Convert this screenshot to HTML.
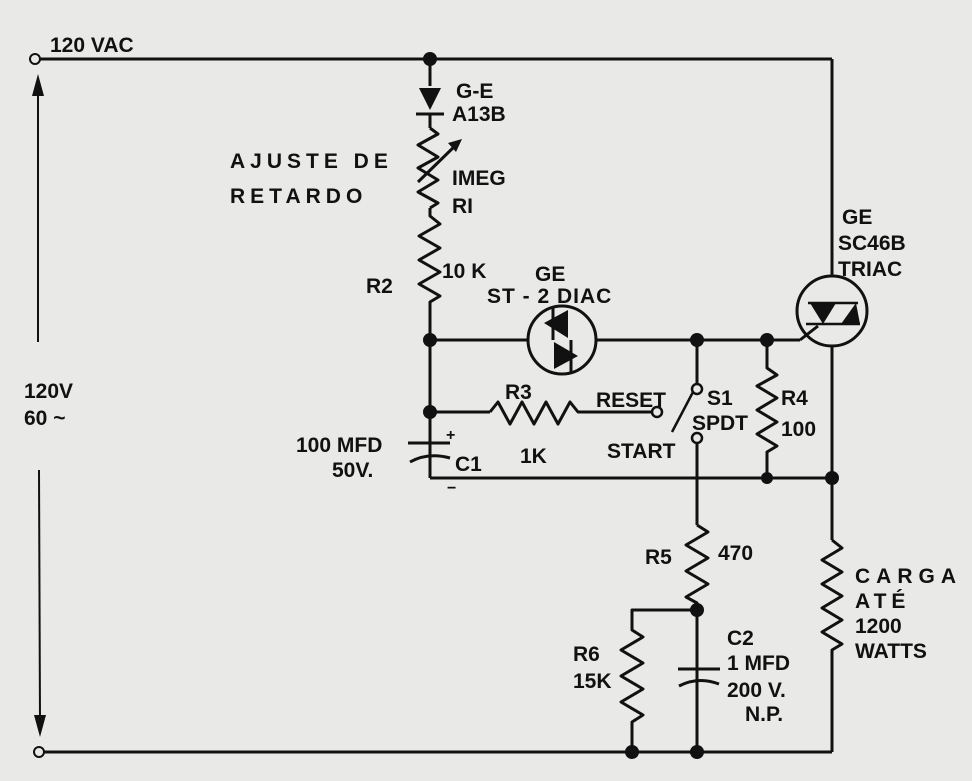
<!DOCTYPE html>
<html><head><meta charset="utf-8"><style>
html,body{margin:0;padding:0;background:#e9e9e7;}
svg{display:block}
text{font-family:"Liberation Sans",sans-serif;font-weight:bold;fill:#111;}
</style></head><body>
<svg width="972" height="781" viewBox="0 0 972 781" xmlns="http://www.w3.org/2000/svg">
<rect width="972" height="781" fill="#e9e9e7"/>
<g stroke="#111" stroke-width="3" fill="none" stroke-linejoin="round">
<line x1="40" y1="59" x2="832" y2="59"/>
<line x1="832" y1="59" x2="832" y2="276"/>
<circle cx="35" cy="59" r="5" stroke-width="2" fill="#e9e9e7"/>
<line x1="44" y1="752" x2="832" y2="752"/>
<circle cx="39" cy="752" r="5" stroke-width="2" fill="#e9e9e7"/>
<line x1="38" y1="90" x2="38" y2="342" stroke-width="2"/>
<line x1="39" y1="470" x2="40" y2="722" stroke-width="2"/>
<line x1="430" y1="59" x2="430" y2="86"/>
<line x1="430" y1="114" x2="430" y2="128"/>
<path d="M430 128 L438 134 L418 145 L438 157 L418 168 L438 180 L418 192 L438 203 L430 208"/>
<path d="M430 208 L430 216 L440 224 L419 236 L440 248 L419 260 L440 272 L419 284 L440 296 L430 302 L430 478"/>
<line x1="418" y1="182" x2="458" y2="143"/>
<line x1="408" y1="443" x2="450" y2="443" stroke-width="3"/>
<path d="M410 462 Q428 452 450 458"/>
<line x1="430" y1="455" x2="430" y2="478"/>
<line x1="430" y1="478" x2="832" y2="478"/>
<line x1="430" y1="340" x2="528" y2="340"/>
<circle cx="562" cy="340" r="34"/>
<line x1="596" y1="340" x2="800" y2="340"/>
<path d="M800 340 L818 326"/>
<line x1="430" y1="412" x2="490" y2="412"/>
<path d="M490 412 L498 402 L510 424 L522 402 L534 424 L546 402 L558 424 L570 402 L578 412 L652 412"/>
<circle cx="657" cy="412" r="5" stroke-width="2.5" fill="#e9e9e7"/>
<line x1="697" y1="340" x2="697" y2="383"/>
<circle cx="697" cy="389" r="5" stroke-width="2.5" fill="#e9e9e7"/>
<line x1="693" y1="392" x2="672" y2="432" stroke-width="2.5"/>
<circle cx="697" cy="438" r="5" stroke-width="2.5" fill="#e9e9e7"/>
<line x1="697" y1="443" x2="697" y2="525"/>
<path d="M767 340 L767 368 L777 375 L757 386 L777 398 L757 410 L777 422 L757 434 L777 446 L767 452 L767 478"/>
<circle cx="832" cy="311" r="35"/>
<line x1="832" y1="346" x2="832" y2="540"/>
<path d="M697 525 L708 532 L686 545 L708 558 L686 571 L708 584 L686 597 L697 603 L697 752"/>
<path d="M697 610 L632 610 L632 630 L643 637 L621 650 L643 663 L621 676 L643 689 L621 702 L643 715 L632 722 L632 752"/>
<line x1="678" y1="669" x2="720" y2="669"/>
<path d="M679 686 Q698 676 719 684"/>
<path d="M832 540 L842 548 L822 560 L842 572 L822 584 L842 596 L822 608 L842 620 L822 632 L842 644 L832 650 L832 752"/>
</g>
<polygon points="38,74 32,96 44,96" fill="#111"/>
<polygon points="40,737 34,715 46,715" fill="#111"/>
<polygon points="462,139 448,143 456,152" fill="#111"/>
<polygon points="419,88 441,88 430,110" fill="#111"/>
<line x1="416" y1="114" x2="444" y2="114" stroke="#111" stroke-width="3"/>
<polygon points="544,323 568,310 568,338" fill="#111"/>
<polygon points="554,342 578,356 554,369" fill="#111"/>
<line x1="553" y1="307" x2="553" y2="340" stroke="#111" stroke-width="3"/>
<line x1="571" y1="340" x2="571" y2="372" stroke="#111" stroke-width="3"/>
<polygon points="810,303 836,303 823,324" fill="#111"/>
<polygon points="841,324 856,303 860,324" fill="#111"/>
<line x1="806" y1="324" x2="860" y2="324" stroke="#111" stroke-width="2.5"/>
<line x1="808" y1="303" x2="858" y2="303" stroke="#111" stroke-width="2.5"/>
<g fill="#111">
<circle cx="430" cy="59" r="7"/>
<circle cx="430" cy="340" r="7"/>
<circle cx="430" cy="412" r="7"/>
<circle cx="697" cy="340" r="7"/>
<circle cx="767" cy="340" r="7"/>
<circle cx="767" cy="478" r="6"/>
<circle cx="832" cy="478" r="7"/>
<circle cx="697" cy="610" r="7"/>
<circle cx="632" cy="752" r="7"/>
<circle cx="697" cy="752" r="7"/>
</g>
<g font-size="21">
<text x="50" y="52">120 VAC</text>
<text x="456" y="98">G-E</text>
<text x="452" y="121">A13B</text>
<text x="230" y="168" letter-spacing="5">AJUSTE DE</text>
<text x="230" y="203" letter-spacing="5">RETARDO</text>
<text x="452" y="185">IMEG</text>
<text x="452" y="213">RI</text>
<text x="366" y="293">R2</text>
<text x="442" y="278">10 K</text>
<text x="535" y="281">GE</text>
<text x="487" y="303" letter-spacing="1">ST - 2 DIAC</text>
<text x="842" y="224">GE</text>
<text x="838" y="250">SC46B</text>
<text x="838" y="276">TRIAC</text>
<text x="24" y="398">120V</text>
<text x="24" y="425">60 ~</text>
<text x="505" y="399">R3</text>
<text x="520" y="463">1K</text>
<text x="596" y="407">RESET</text>
<text x="607" y="458">START</text>
<text x="707" y="405">S1</text>
<text x="692" y="430">SPDT</text>
<text x="781" y="405">R4</text>
<text x="781" y="436">100</text>
<text x="296" y="452">100 MFD</text>
<text x="332" y="477">50V.</text>
<text x="455" y="471">C1</text>
<text x="446" y="440" font-size="16">+</text>
<text x="447" y="493" font-size="16">−</text>
<text x="645" y="564">R5</text>
<text x="718" y="560">470</text>
<text x="573" y="661">R6</text>
<text x="573" y="688">15K</text>
<text x="727" y="645">C2</text>
<text x="727" y="670">1 MFD</text>
<text x="727" y="697">200 V.</text>
<text x="745" y="721">N.P.</text>
<text x="855" y="583" letter-spacing="6">CARGA</text>
<text x="855" y="608" letter-spacing="5">ATÉ</text>
<text x="855" y="633">1200</text>
<text x="855" y="658">WATTS</text>
</g>
</svg>
</body></html>
